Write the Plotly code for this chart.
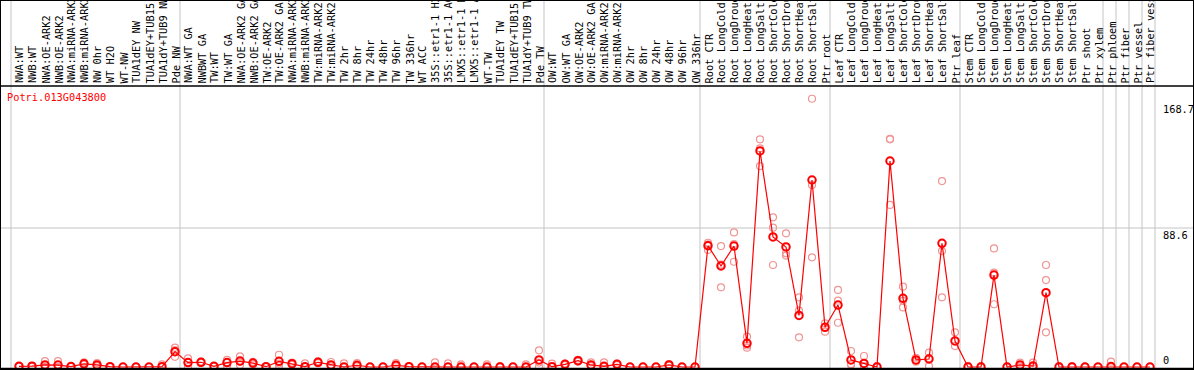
import plotly.graph_objects as go

# ---------------- data ----------------
gene_id = "Potri.013G043800"

categories = [
    "NWA:WT", "NWB:WT", "NWA:OE-ARK2", "NWB:OE-ARK2", "NWA:miRNA-ARK2", "NWB:miRNA-ARK2",
    "NW 0hr", "WT H2O", "WT-NW", "TUA1dEY NW", "TUA1dEY+TUB15 NW", "TUA1dY+TUB9 NW", "Pde NW",
    "NWA:WT GA", "NWBWT GA", "TW:WT", "TW:WT GA", "NWA:OE-ARK2 GA", "NWB:OE-ARK2 GA",
    "TW:OE-ARK2", "TW:OE-ARK2 GA", "NWA:miRNA-ARK2", "NWB:miRNA-ARK2", "TW:miRNA-ARK2",
    "TW:miRNA-ARK2", "TW 2hr", "TW 8hr", "TW 24hr", "TW 48hr", "TW 96hr", "TW 336hr",
    "WT ACC", "35S::etr1-1 H2O", "35S::etr1-1 ACC", "LMX5::etr1-1 H2O", "LMX5::etr1-1 ACC",
    "WT-TW", "TUA1dEY TW", "TUA1dEY+TUB15 TW", "TUA1dY+TUB9 TW", "Pde TW",
    "OW:WT", "OW:WT GA", "OW:OE-ARK2", "OW:OE-ARK2 GA", "OW:miRNA-ARK2", "OW:miRNA-ARK2",
    "OW 2hr", "OW 8hr", "OW 24hr", "OW 48hr", "OW 96hr", "OW 336hr",
    "Root CTR", "Root LongCold", "Root LongDrought", "Root LongHeat", "Root LongSalt",
    "Root ShortCold", "Root ShortDrought", "Root ShortHeat", "Root ShortSalt", "Ptr root",
    "Leaf CTR", "Leaf LongCold", "Leaf LongDrought", "Leaf LongHeat", "Leaf LongSalt",
    "Leaf ShortCold", "Leaf ShortDrought", "Leaf ShortHeat", "Leaf ShortSalt", "Ptr leaf",
    "Stem CTR", "Stem LongCold", "Stem LongDrought", "Stem LongHeat", "Stem LongSalt",
    "Stem ShortCold", "Stem ShortDrought", "Stem ShortHeat", "Stem ShortSalt", "Ptr shoot",
    "Ptr xylem", "Ptr phloem", "Ptr fiber", "Ptr vessel", "Ptr fiber vessel",
]

mean_values = [
    0.4, 0.5, 1.3, 1.2, 0.3, 2.0, 1.3, 0.2, 0.0, 0.0, 0.0, 0.2, 9.8,
    2.8, 3.0, 0.4, 2.8, 3.8, 2.5, 0.2, 3.6, 2.1, 0.2, 3.0, 1.3, 0.0, 1.1, 0.0, 0.0,
    1.1, 0.2, 0.0, 0.0, 0.0, 0.0, 0.0, 0.0, 0.0, 0.0, 0.0, 4.5,
    0.2, 1.7, 4.0, 1.3, 0.4, 1.7, 0.0, 0.0, 0.0, 1.3, 0.0, 0.0,
    77.3, 64.4, 77.1, 15.1, 137.7, 82.9, 76.5, 32.9, 119.2, 25.3,
    39.5, 4.5, 2.3, 0.0, 131.3, 43.8, 4.5, 5.1, 78.8, 16.6,
    0.0, 0.0, 58.6, 0.0, 1.3, 0.6, 47.4, 0.0, 0.0, 0.0,
    0.0, 0.3, 0.0, 0.0, 0.0,
]

replicate_values = [
    [0.6, 0.2], [0.7, 0.3], [3.8, 0.3, 0.0], [3.8, 0.0], [0.5, 0.1], [3.0, 1.5], [2.5, 0.6],
    [0.4, 0.0], [0.0], [0.0], [0.0], [1.7, 0.0], [12.3, 10.8, 6.5],
    [5.5, 0.0, 3.0], [3.5, 2.6], [0.6, 0.2], [4.5, 0.8, 3.0], [6.8, 1.2, 3.5], [3.3, 1.7],
    [0.4, 0.0], [7.8, 0.8, 2.2], [2.8, 1.4], [2.3, 0.0], [3.6, 2.4], [3.2, 0.4], [2.3, 0.0],
    [2.5, 0.4], [0.0], [0.0], [2.5, 0.4], [0.4, 0.0], [0.0], [3.0, 0.0], [2.3, 0.0],
    [1.7, 0.0], [0.0], [1.7, 0.0], [0.6, 0.0], [0.0], [1.7, 0.0], [10.6, 0.0, 2.8],
    [2.1, 0.0], [2.2, 1.2], [4.6, 3.4], [3.0, 0.5], [3.0, 0.0], [2.2, 1.2], [0.0], [0.0],
    [0.0], [1.8, 0.8], [0.0], [0.0],
    [79.2, 74.6, 78.1], [77.1, 50.8, 65.3], [85.8, 67.1, 78.4], [19.3, 12.3, 13.7],
    [145.1, 139.4, 128.1], [95.4, 88.8, 65.0], [85.2, 72.5, 71.0], [44.4, 35.9, 18.9],
    [171.0, 116.0, 69.9], [27.8, 22.5],
    [49.1, 42.3, 28.2], [10.2, 1.9, 1.5], [7.0, 0.5, 0.0], [0.6, 0.0], [145.1, 103.3, 145.5],
    [51.2, 38.0, 42.2], [5.9, 3.4, 4.2], [9.1, 0.5, 5.7], [118.5, 73.9, 44.4], [22.1, 13.4],
    [0.8, 0.0], [0.6, 0.0], [75.6, 60.1, 40.0], [0.3, 0.0], [2.8, 0.2], [2.8, 0.0],
    [65.0, 55.4, 22.1], [0.5, 0.0], [0.5, 0.0], [0.3, 0.0],
    [0.0], [3.4, 0.0], [0.0], [0.0], [0.0],
]

group_ends = [-1, 12, 40, 52, 62, 72, 83, 84, 85, 86, 87]
y_ticks = [0, 88.6, 168.7]
tick_labels = ["0", "88.6", "168.7"]

# ---------------- layout geometry ----------------
W, H = 1194, 370
x0_px, dx_px = 19.0, 13.0          # pixel of first column and column spacing
y0_px, scale = 367.0, 139.0 / 88.6  # pixel of value 0 and px per unit
header_px = 86.0

x_range = [-x0_px / dx_px, (W - x0_px) / dx_px]
y_range = [-(H - y0_px) / scale, y0_px / scale]

FONT = "DejaVu Sans Mono"
FS = 10.3
RED = "#ff0000"
PINK = "#f09494"
GRID = "#c4c4c4"

xs = list(range(len(categories)))
rep_x, rep_y = [], []
for i, reps in enumerate(replicate_values):
    for v in reps:
        rep_x.append(i)
        rep_y.append(v)

fig = go.Figure()
fig.add_trace(go.Scatter(
    x=rep_x, y=rep_y, mode="markers",
    marker=dict(symbol="circle-open", size=7, color=PINK, line=dict(width=1.2, color=PINK)),
    hoverinfo="skip", showlegend=False, cliponaxis=False,
))
fig.add_trace(go.Scatter(
    x=xs, y=mean_values, mode="lines+markers",
    line=dict(color=RED, width=1.2),
    marker=dict(symbol="circle-open", size=7.5, color=RED, line=dict(width=2, color=RED)),
    showlegend=False, cliponaxis=False,
))

shapes = []
# horizontal grid line at middle tick
shapes.append(dict(type="line", xref="paper", yref="y", x0=0, x1=1, y0=y_ticks[1], y1=y_ticks[1],
                   line=dict(color=GRID, width=1), layer="below"))
# vertical group separators
for g in group_ends:
    xv = g + 5.0 / dx_px
    shapes.append(dict(type="line", xref="x", yref="paper", x0=xv, x1=xv, y0=0, y1=1,
                       line=dict(color=GRID, width=1), layer="below"))
# header separator line
yh = (H - header_px) / H
shapes.append(dict(type="line", xref="paper", yref="paper", x0=0, x1=1, y0=yh, y1=yh,
                   line=dict(color="black", width=1.5)))
# bottom axis line
shapes.append(dict(type="line", xref="paper", yref="paper", x0=0, x1=1, y0=1.2 / H, y1=1.2 / H,
                   line=dict(color="black", width=2)))
# outer frame
shapes.append(dict(type="rect", xref="paper", yref="paper", x0=0, x1=1, y0=0, y1=1,
                   line=dict(color="black", width=2)))

annotations = []
for i, c in enumerate(categories):
    annotations.append(dict(
        x=i, y=(H - 84.5) / H, xref="x", yref="paper", text=c, textangle=-90,
        xanchor="center", yanchor="bottom", showarrow=False, borderpad=0,
        font=dict(family=FONT, size=FS, color="black"),
    ))
annotations.append(dict(
    x=6 / W, y=(H - 97) / H, xref="paper", yref="paper", text=gene_id,
    xanchor="left", yanchor="middle", showarrow=False, borderpad=0,
    font=dict(family=FONT, size=FS, color=RED),
))
for v, t in zip(y_ticks, tick_labels):
    annotations.append(dict(
        x=1162 / W, y=v, xref="paper", yref="y", text=t,
        xanchor="left", yanchor="bottom" if v == 0 else "top", showarrow=False, borderpad=0,
        font=dict(family=FONT, size=FS, color="black"),
    ))

fig.update_layout(
    width=W, height=H, margin=dict(l=0, r=0, t=0, b=0),
    paper_bgcolor="white", plot_bgcolor="white",
    xaxis=dict(range=x_range, visible=False, fixedrange=True),
    yaxis=dict(range=y_range, visible=False, fixedrange=True),
    shapes=shapes, annotations=annotations,
)
fig.write_html(
    "out.html",
    config={"displayModeBar": False, "staticPlot": True},
    post_script="document.body.style.margin='0';document.body.style.overflow='hidden';",
)
